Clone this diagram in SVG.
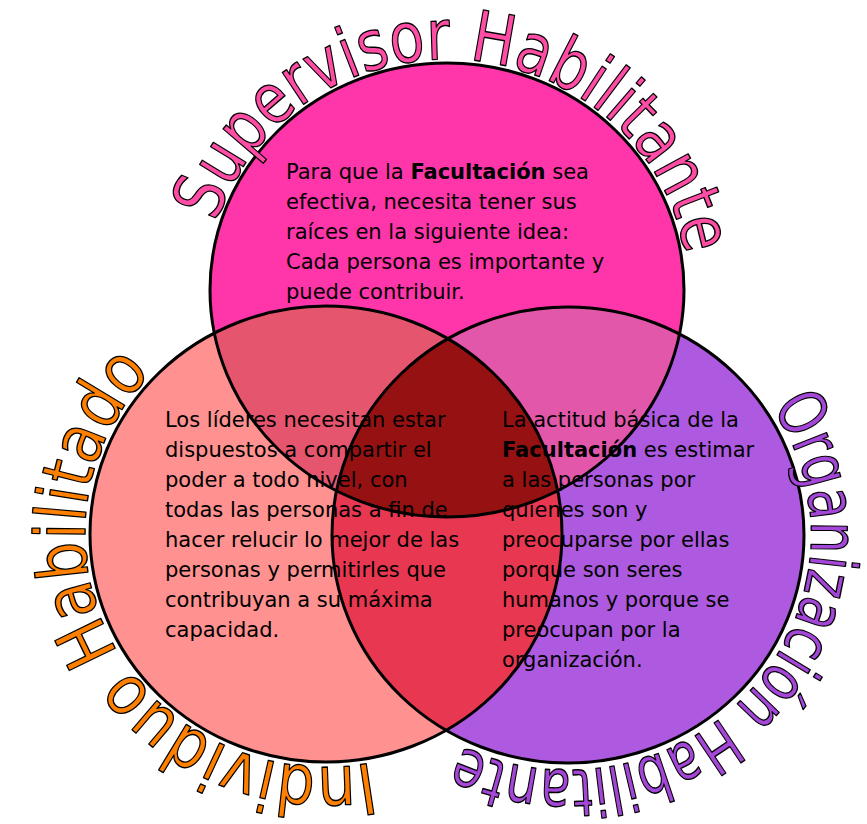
<svg xmlns="http://www.w3.org/2000/svg" width="867" height="824" viewBox="0 0 867 824">
<style>
.body{font-family:"DejaVu Sans",Verdana,sans-serif;font-size:21px;fill:#000}
.b{font-weight:bold}
.arc{font-family:"DejaVu Sans",Verdana,sans-serif;stroke:#000;stroke-width:1.4px;stroke-linejoin:round}
.edge{fill:none;stroke:#000;stroke-width:3}
</style>
<defs>
<clipPath id="cT"><ellipse cx="447" cy="290" rx="237" ry="227"/></clipPath>
<clipPath id="cL"><ellipse cx="326" cy="534" rx="236" ry="228"/></clipPath>
<path id="pT" d="M216.5,222.5 A241,231 0 0 1 684.3,330.1"/>
<path id="pL" d="M372,762.7 A241,233 0 0 1 205.5,332.2"/>
<path id="pR" d="M771.8,407 A243,235 0 0 1 411.8,715"/>
</defs>
<rect width="867" height="824" fill="#fff"/>
<g id="circles">
<g id="circle-left"><ellipse cx="326" cy="534" rx="236" ry="228" fill="#FF9190"/></g>
<g id="circle-right"><ellipse cx="568" cy="535" rx="236" ry="228" fill="#AE5AE0"/></g>
<g id="circle-top"><ellipse cx="447" cy="290" rx="237" ry="227" fill="#FF35AA"/></g>
<g id="overlaps">
<ellipse cx="326" cy="534" rx="236" ry="228" fill="#E5566E" clip-path="url(#cT)"/>
<ellipse cx="568" cy="535" rx="236" ry="228" fill="#E257AA" clip-path="url(#cT)"/>
<ellipse cx="568" cy="535" rx="236" ry="228" fill="#E83750" clip-path="url(#cL)"/>
<g clip-path="url(#cT)"><ellipse cx="568" cy="535" rx="236" ry="228" fill="#961212" clip-path="url(#cL)"/></g>
</g>
<g id="outlines">
<ellipse class="edge" cx="326" cy="534" rx="236" ry="228"/>
<ellipse class="edge" cx="568" cy="535" rx="236" ry="228"/>
<ellipse class="edge" cx="447" cy="290" rx="237" ry="227"/>
</g>
</g>
<g id="title-top"><text class="arc" font-size="70" fill="#FF4DA6"><textPath href="#pT" textLength="637" lengthAdjust="spacingAndGlyphs">Supervisor Habilitante</textPath></text></g>
<g id="title-left"><text class="arc" font-size="70" fill="#FF8000"><textPath href="#pL" textLength="597" lengthAdjust="spacingAndGlyphs">Individuo Habilitado</textPath></text></g>
<g id="title-right"><text class="arc" font-size="66" fill="#A446D8"><textPath href="#pR" textLength="621" lengthAdjust="spacingAndGlyphs">Organización Habilitante</textPath></text></g>
<g id="text-top">
<text class="body" x="286" y="179">Para que la <tspan class="b">Facultación</tspan> sea</text>
<text class="body" x="286" y="209">efectiva, necesita tener sus</text>
<text class="body" x="286" y="239">raíces en la siguiente idea:</text>
<text class="body" x="286" y="269">Cada persona es importante y</text>
<text class="body" x="286" y="299">puede contribuir.</text>
</g>
<g id="text-left">
<text class="body" x="165" y="427">Los líderes necesitan estar</text>
<text class="body" x="165" y="457">dispuestos a compartir el</text>
<text class="body" x="165" y="487">poder a todo nivel, con</text>
<text class="body" x="165" y="517">todas las personas a fin de</text>
<text class="body" x="165" y="547">hacer relucir lo mejor de las</text>
<text class="body" x="165" y="577">personas y permitirles que</text>
<text class="body" x="165" y="607">contribuyan a su máxima</text>
<text class="body" x="165" y="637">capacidad.</text>
</g>
<g id="text-right">
<text class="body" x="502" y="427">La actitud básica de la</text>
<text class="body" x="502" y="457"><tspan class="b">Facultación</tspan> es estimar</text>
<text class="body" x="502" y="487">a las personas por</text>
<text class="body" x="502" y="517">quienes son y</text>
<text class="body" x="502" y="547">preocuparse por ellas</text>
<text class="body" x="502" y="577">porque son seres</text>
<text class="body" x="502" y="607">humanos y porque se</text>
<text class="body" x="502" y="637">preocupan por la</text>
<text class="body" x="502" y="667">organización.</text>
</g>
</svg>
